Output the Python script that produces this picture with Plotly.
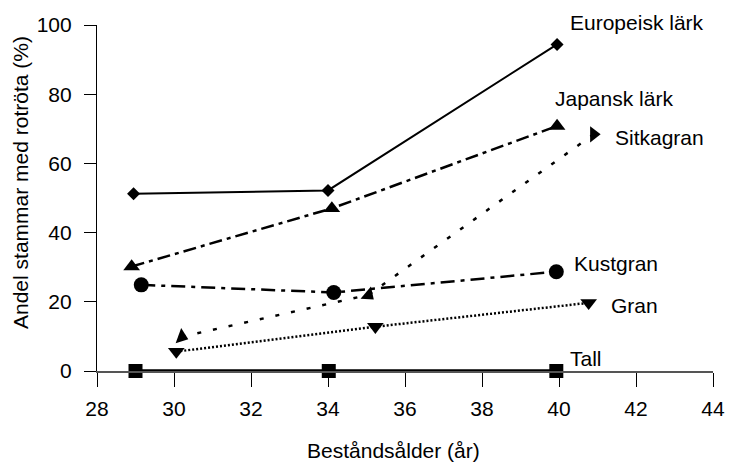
import plotly.graph_objects as go

# Data (stand age in years, share of stems with root rot %)
euro_x = [28.95, 34.0, 39.95]
euro_y = [51.2, 52.2, 94.4]
jap_x = [28.9, 34.1, 39.95]
jap_y = [30.2, 47.0, 70.8]
sitka_x = [30.2, 35.05, 40.9]
sitka_y = [9.9, 22.0, 68.4]
kust_x = [29.15, 34.15, 39.93]
kust_y = [24.9, 22.7, 28.7]
gran_x = [30.06, 35.23, 40.77]
gran_y = [5.6, 12.8, 19.7]
tall_x = [29.0, 34.02, 39.93]
tall_y = [0.0, 0.0, 0.0]

series_names = ["Europeisk lärk", "Japansk lärk", "Sitkagran", "Kustgran", "Gran", "Tall"]
x_ticks = [28, 30, 32, 34, 36, 38, 40, 42, 44]
y_ticks = [0, 20, 40, 60, 80, 100]

FONT = "Liberation Sans, Arial, sans-serif"
FS = 21

# plot-area pixel frame (used only to place text labels)
L, R, T, B = 97, 713, 25, 371
def px(xp): return (xp - L) / (R - L)
def py(yp): return (B - yp) / (B - T)

fig = go.Figure()

def add(x, y, name, symbol, msize, dash, width, angle=0):
    fig.add_trace(go.Scatter(
        x=x, y=y, name=name, mode="lines+markers",
        line=dict(color="black", width=width, dash=dash),
        marker=dict(symbol=symbol, size=msize, color="black", angle=angle),
        cliponaxis=False, showlegend=False,
    ))

add(euro_x, euro_y, series_names[0], "diamond", 10, "solid", 2)
add(jap_x, jap_y, series_names[1], "triangle-up", 14.5, "13px,5px,4px,5px", 2.5)
add(sitka_x, sitka_y, series_names[2], "triangle-right", 14, "4px,12px", 2.5, [20, 40, 0])
add(kust_x, kust_y, series_names[3], "circle", 15, "14px,6px,4px,6px", 2.5)
add(gran_x, gran_y, series_names[4], "triangle-down", 14.5, "2px,2px", 2.5)
add(tall_x, tall_y, series_names[5], "square", 14, "solid", 3.5)

# series labels (left edge x, vertical centre y, in page pixels)
label_pos = {
    "Europeisk lärk": (568, 22),
    "Japansk lärk": (553, 99),
    "Sitkagran": (613, 137),
    "Kustgran": (572, 263),
    "Gran": (609, 305),
    "Tall": (568, 358),
}
for name in series_names:
    lx, ly = label_pos[name]
    fig.add_annotation(xref="paper", yref="paper", x=px(lx), y=py(ly), text=name,
                       showarrow=False, xanchor="left", yanchor="middle",
                       font=dict(family=FONT, size=FS, color="black"))

# axis titles
fig.add_annotation(xref="paper", yref="paper", x=px(393), y=py(450),
                   xanchor="center", yanchor="middle",
                   text="Beståndsålder (år)", showarrow=False,
                   font=dict(family=FONT, size=FS, color="black"))
fig.add_annotation(xref="paper", yref="paper", x=px(20), y=py(183),
                   xanchor="center", yanchor="middle",
                   text="Andel stammar med rotröta (%)", textangle=-90,
                   showarrow=False, font=dict(family=FONT, size=FS, color="black"))

fig.update_layout(
    template="none",
    width=730, height=464,
    margin=dict(l=L, r=730 - R, t=T, b=464 - B, autoexpand=False),
    plot_bgcolor="white", paper_bgcolor="white",
    font=dict(family=FONT, size=FS, color="black"),
    xaxis=dict(range=[28, 44], tickvals=x_ticks, ticktext=[str(v) for v in x_ticks],
               automargin=False, showgrid=False, zeroline=False, showline=True,
               linecolor="#555", linewidth=1.5, ticks="outside", ticklen=14,
               tickcolor="black", tickwidth=1.2, ticklabelstandoff=4,
               tickfont=dict(family=FONT, size=FS)),
    yaxis=dict(range=[0, 100], tickvals=y_ticks, ticktext=[str(v) for v in y_ticks],
               automargin=False, showgrid=False, zeroline=False, showline=True,
               linecolor="black", linewidth=1.2, ticks="outside", ticklen=12,
               tickcolor="black", tickwidth=1.2, ticklabelstandoff=8,
               tickfont=dict(family=FONT, size=FS)),
)

fig.write_html("out.html", config={"displayModeBar": False},
               post_script="document.body.style.margin='0';")
